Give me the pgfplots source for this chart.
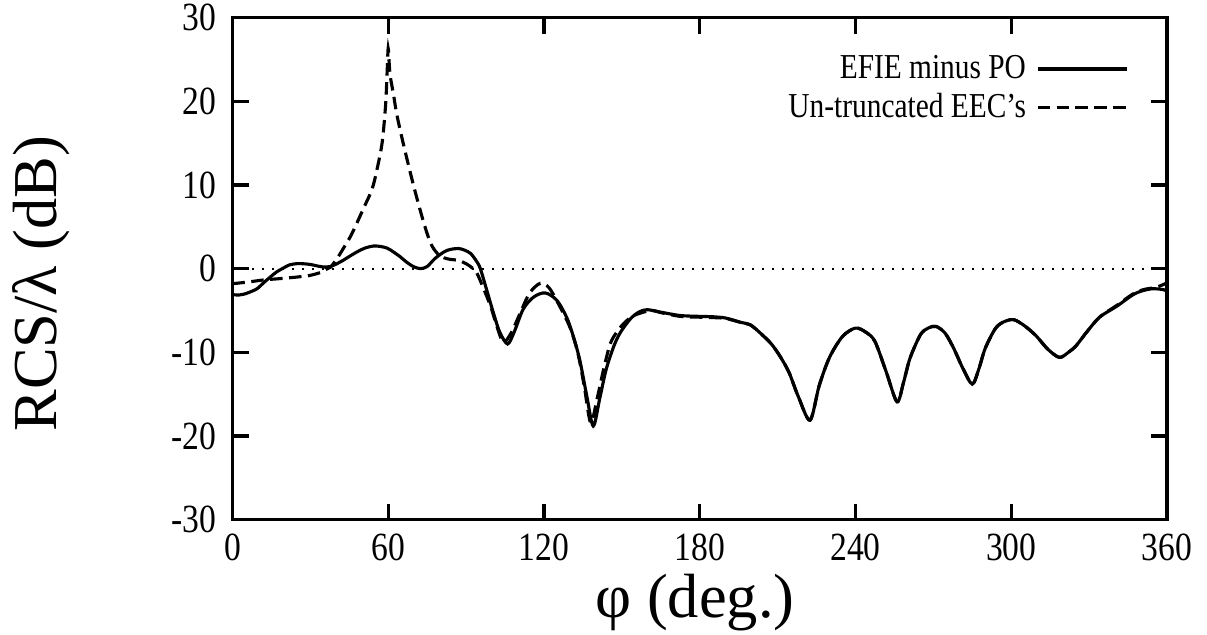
\documentclass[border=0pt]{standalone}
\usepackage{pgfplots}
\pgfplotsset{compat=1.18}
\usepackage{fontspec}
\setmainfont{Liberation Serif}
\newfontfamily\narrowfont[FakeStretch=0.84]{Liberation Serif}

\begin{document}
\begin{tikzpicture}
\begin{axis}[
  scale only axis, width=374pt, height=201pt,
  xmin=0, xmax=360, ymin=-30, ymax=30,
  xtick={0,60,...,360}, ytick={-30,-20,...,30},
  tick align=inside, major tick length=6.5pt,
  axis line style={line width=1.3pt},
  every tick/.style={line width=1.3pt, black},
  tick label style={font=\narrowfont\fontsize{16}{18}\selectfont},
  /pgf/number format/assume math mode=true,
  yticklabel style={xshift=-3pt},
  xticklabel style={yshift=-2pt},
  xlabel={φ (deg.)}, ylabel={RCS/λ (dB)},
  every axis x label/.style={at={(rel axis cs:0.495,-0.165)}, anchor=center, font=\fontsize{25}{30}\selectfont},
  every axis y label/.style={at={(rel axis cs:-0.205,0.47)}, anchor=center, rotate=90, font=\fontsize{25}{30}\selectfont},
  legend image code/.code={\draw[#1] (0pt,0pt) -- (36pt,0pt);},
  legend plot pos=right,
  legend cell align=right,
  legend style={draw=none, fill=none, at={(rel axis cs:1,1)}, anchor=north east,
    xshift=-12pt, yshift=-11pt, font=\narrowfont\fontsize{14}{16}\selectfont, row sep=0.5pt, column sep=2pt},
]
\addplot[black, line width=0.8pt, dash pattern=on 0.8pt off 3.2pt, forget plot] coordinates {(0,0) (360,0)};

\addplot[black, line width=1.25pt, smooth] coordinates {
(0,-3.1) (2.5,-3.15) (5,-3.0) (7.5,-2.7) (9.5,-2.4) (12,-1.7) (14.6,-1.0) (17,-0.4) (19.8,0.1) (22,0.45) (24.9,0.6) (27.5,0.58) (30,0.5) (33,0.3) (35,0.2) (37.7,0.25) (40,0.55) (42.7,1.0) (45,1.45) (48,2.0) (51,2.45) (54.3,2.7) (57,2.65) (59.6,2.45) (62,2.0) (64.7,1.4) (67,0.8) (69.7,0.25) (72.4,0.0) (75,0.25) (78,1.2) (81.5,2.0) (84,2.3) (87.2,2.4) (89.5,2.2) (91.8,1.8) (94,0.9) (95.5,0.0) (98,-2.6) (100.5,-5.25) (103,-7.6) (106,-9.0) (108.5,-7.6) (112,-4.85) (116,-3.4) (120.5,-2.9) (125,-3.8) (129,-6.0) (132,-8.8) (134,-11.2) (136.5,-15.2) (139,-18.8) (141.5,-15.5) (144,-12.0) (147,-9.2) (149.5,-7.6) (153.3,-6.0) (156.5,-5.2) (159.7,-4.9) (165,-5.2) (172.5,-5.6) (180,-5.7) (185.2,-5.75) (190,-5.9) (195.6,-6.4) (199.4,-6.7) (203,-7.6) (207.6,-9.0) (211,-10.5) (214.4,-12.4) (218,-15.3) (222.5,-18.1) (226,-14.0) (230,-10.6) (235,-8.1) (240,-7.1) (244,-7.6) (247.5,-8.7) (251.8,-12.3) (256,-15.9) (258.5,-13.6) (261,-10.7) (265,-7.9) (268,-7.1) (271,-6.9) (274.5,-7.7) (277.8,-9.5) (281.5,-12.0) (285,-13.8) (287.5,-12.0) (290,-9.5) (294,-7.1) (297.5,-6.3) (301,-6.1) (305,-6.8) (309.5,-8.0) (314,-9.6) (318.5,-10.6) (322,-10.0) (325,-9.2) (329,-7.6) (334,-5.8) (340.6,-4.5) (347,-3.1) (351,-2.6) (354.6,-2.4) (358.5,-2.5) (360,-2.7)
};
\addlegendentry{EFIE minus PO}

\addplot[black, line width=1.25pt, smooth, dash pattern=on 5pt off 2.6pt] coordinates {
(0,-1.8) (6,-1.6) (12,-1.35) (18,-1.2) (25,-1.0) (30,-0.8) (34,-0.45) (36,-0.1) (37.7,0.15) (40.3,1.2) (42.7,2.4) (45.4,3.8) (47.3,5.0) (50.5,7.2) (53.8,9.5) (55.8,12.0) (57.7,15.1) (59,19.5) (59.6,23.5) (60,26.3) (60.4,24.5) (60.8,23.0) (62.1,20.7) (63.4,18.3) (66,14.7) (69.8,9.9) (73.6,5.6) (76.4,3.0) (79,1.8) (81.5,1.3) (84,1.1) (87,1.0) (89,0.75) (91.5,0.3) (94,-0.45) (96.5,-2.2) (99.4,-4.45) (102,-7.0) (104.4,-8.8) (107.5,-7.6) (111,-5.2) (114.5,-2.9) (118.6,-1.75) (122,-2.3) (126,-4.45) (130,-7.0) (133,-10.0) (135.5,-14.0) (138,-18.4) (140.5,-15.5) (143,-12.0) (145.5,-9.0) (148,-7.6) (150.6,-6.6) (154,-5.7) (158.3,-5.2) (162,-5.0) (165,-5.25) (172.5,-5.7) (180,-5.8) (185.2,-5.85) (190,-5.95) (195.6,-6.4) (199.4,-6.7) (203,-7.6) (207.6,-9.0) (211,-10.5) (214.4,-12.4) (218,-15.3) (222.5,-18.1) (226,-14.0) (230,-10.6) (235,-8.1) (240,-7.1) (244,-7.6) (247.5,-8.7) (251.8,-12.3) (256,-15.9) (258.5,-13.6) (261,-10.7) (265,-7.9) (268,-7.1) (271,-6.9) (274.5,-7.7) (277.8,-9.5) (281.5,-12.0) (285,-13.8) (287.5,-12.0) (290,-9.5) (294,-7.1) (297.5,-6.3) (301,-6.1) (305,-6.8) (309.5,-8.0) (314,-9.6) (318.5,-10.6) (322,-10.0) (325,-9.2) (329,-7.6) (334,-5.8) (340.6,-4.4) (347,-3.0) (351,-2.5) (354.6,-2.3) (357,-2.1) (360,-1.7)
};
\addlegendentry{Un-truncated EEC’s}

\coordinate (A) at (rel axis cs:0,0);
\coordinate (B) at (rel axis cs:1,1);
\end{axis}
\pgfresetboundingbox
\path ([shift={(-93pt,-46pt)}]A) rectangle ([shift={(16pt,7pt)}]B);
\end{tikzpicture}
\end{document}
